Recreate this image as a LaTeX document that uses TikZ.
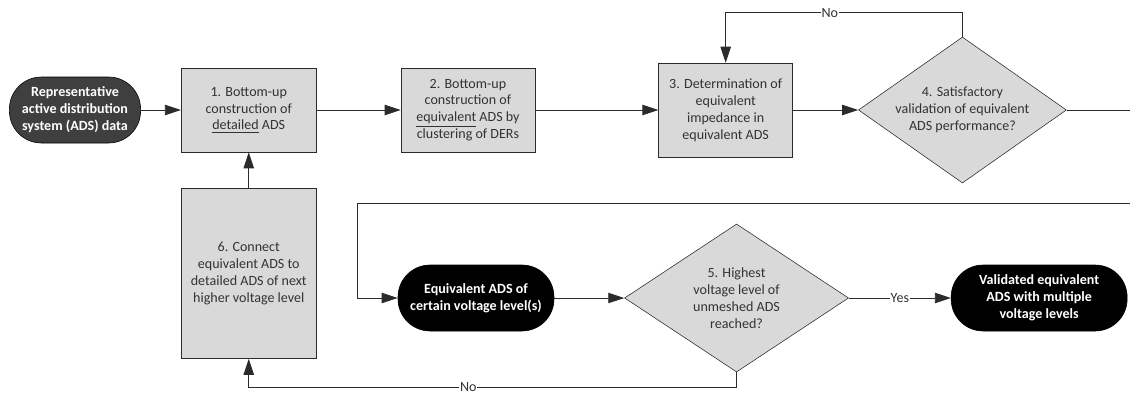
\documentclass[tikz,border=0pt]{standalone}
\usepackage{fontspec}
\setmainfont{Carlito}
\usepackage{xcolor}
\usetikzlibrary{arrows.meta,positioning,shapes.geometric}
\definecolor{boxgrey}{HTML}{D9D9D9}
\definecolor{startgrey}{HTML}{3F3F3F}
\definecolor{linegrey}{HTML}{2B2B2B}
\definecolor{textgrey}{HTML}{333333}

\begin{document}
\begin{tikzpicture}[
    font=\fontsize{10pt}{12pt}\selectfont,
    startstop/.style={rectangle, rounded corners=0.8cm, minimum width=3.9cm, minimum height=1.65cm, inner sep=2pt, align=center, draw=black, fill=black, text=white, font=\fontsize{10pt}{12pt}\selectfont\bfseries},
    process/.style={rectangle, minimum width=3.35cm, minimum height=2.1cm, inner sep=2pt, align=center, draw=linegrey, fill=boxgrey, text=textgrey},
    decision/.style={diamond, aspect=1.43, inner sep=-4pt, minimum width=5.2cm, minimum height=3.65cm, align=center, draw=linegrey, fill=boxgrey, text=textgrey},
    arrow/.style={draw=linegrey, line width=0.6pt, -{Triangle[length=4mm,width=2.6mm]}},
    line/.style={draw=linegrey, line width=0.6pt},
    answer/.style={fill=white, inner sep=0.5pt, text=textgrey}
]
\useasboundingbox (0,0) rectangle (28.25,-9.925);

\node (start) [startstop, minimum width=3.28cm, fill=startgrey] at (1.875,-2.75) {Representative\\active distribution\\system (ADS) data};
\node (detailed) [process, right=1cm of start, minimum width=3.38cm] {1. Bottom-up\\construction of\\\underline{detailed} ADS};
\node (equivalent) [process, right=2.1cm of detailed] {2. Bottom-up\\construction of\\\underline{equivalent} ADS by\\clustering of DERs};
\node (impedance) [process, right=3.08cm of equivalent, minimum height=2.35cm] {3. Determination of\\equivalent\\impedance in\\equivalent ADS};
\node (validation) [decision, right=1.63cm of impedance] {4. Satisfactory\\validation of equivalent\\ADS performance?};
\node (connect) [process, below=0.9cm of detailed, minimum width=3.38cm, minimum height=4.25cm] {6. Connect\\equivalent ADS to\\detailed ADS of next\\higher voltage level};
\node (level) [startstop] at (11.9,-7.45) {Equivalent ADS of\\certain voltage level(s)};
\node (highest) [decision, right=1.75cm of level, minimum width=5.6cm, minimum height=3.7cm] {5. Highest\\voltage level of\\unmeshed ADS\\reached?};
\node (final) [startstop, right=2.55cm of highest, minimum width=4.4cm] {Validated equivalent\\ADS with multiple\\voltage levels};

\coordinate (wrap) at (28.5,-5.075);
\coordinate (back) at (8.925,-5.075);

\draw [arrow] (start) -- (detailed);
\draw [arrow] (detailed) -- (equivalent);
\draw [arrow] (equivalent) -- (impedance);
\draw [arrow] (impedance) -- (validation);
\draw [arrow] (validation.north) -- ++(0,0.6) -| node [answer, pos=0.28] {No} (impedance.north);
\draw [line] (validation.east) -| (wrap) -- (back);
\draw [arrow] (back) |- (level.west);
\draw [arrow] (level) -- (highest);
\draw [arrow] (highest) -- node [answer] {Yes} (final);
\draw [arrow] (highest.south) -- ++(0,-0.38) -| node [answer, pos=0.275] {No} (connect.south);
\draw [arrow] (connect) -- (detailed);

\end{tikzpicture}
\end{document}
